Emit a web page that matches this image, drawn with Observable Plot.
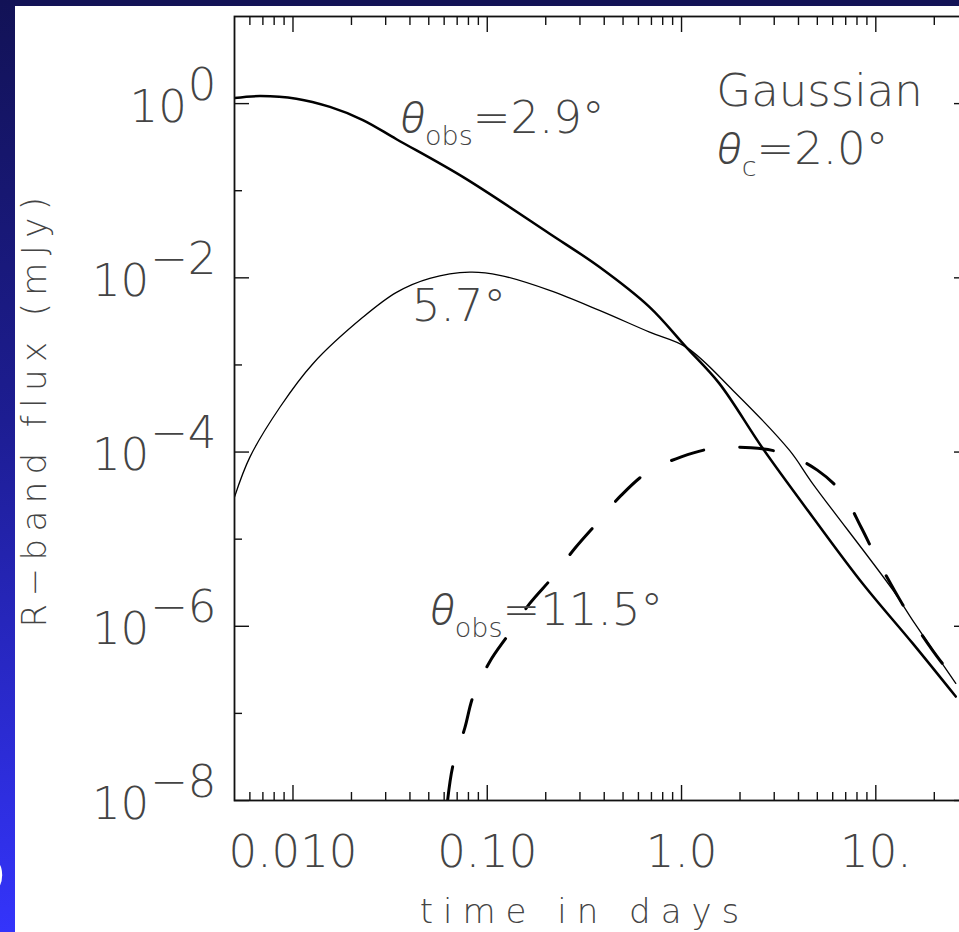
<!DOCTYPE html>
<html>
<head>
<meta charset="utf-8">
<script src="https://cdn.jsdelivr.net/npm/d3@7"></script>
<script src="https://cdn.jsdelivr.net/npm/@observablehq/plot@0.6"></script>
<style>
  html, body { margin: 0; padding: 0; overflow: hidden; background: #131356; }
  #stage { position: relative; width: 959px; height: 932px; overflow: hidden; background: #131356; }
  #strip { position: absolute; left: 0; top: 0; width: 15px; height: 932px;
           background: linear-gradient(to bottom, #121256 0%, #1d1d92 45%, #3434fb 100%); }
  #panel { position: absolute; left: 15px; top: 6px; width: 944px; height: 926px; background: #fff; }
  #corner { position: absolute; left: -42px; top: 846px; color: #fff;
            font: bold 60px "Liberation Sans", sans-serif; line-height: 1; }
  #chart { position: absolute; left: 0; top: 0; }
</style>
</head>
<body>
<div id="stage">
  <div id="strip"></div>
  <div id="panel"></div>
  <div id="corner">O</div>
  <div id="chart"></div>
</div>
<script>
// R-band afterglow light curves of a Gaussian jet seen from three viewing angles.
// Time in days, flux in mJy.

const coreT = [0.005, 0.00676, 0.0104, 0.0155, 0.0229, 0.0341, 0.0752, 0.2095, 0.378,
               0.685, 1.057, 1.567, 2.62, 4.73, 8.55, 15.45, 25.8];
const coreF = [1.16, 1.22, 1.14, 0.916, 0.648, 0.39, 0.143, 0.0321, 0.0133,
               0.00461, 0.0016, 6.1e-4, 1.1e-4, 1.8e-5, 3.1e-6, 6.4e-7, 1.56e-7];

const midT = [0.005, 0.00601, 0.00858, 0.0127, 0.02296, 0.0341, 0.0506, 0.0813, 0.116, 0.2095,
              0.378, 0.685, 1.057, 1.84, 3.59, 4.73, 12.25, 15.45, 25.8];
const midF = [3.05e-5, 8.8e-5, 3.29e-4, 1.04e-3, 3.54e-3, 6.8e-3, 9.85e-3, 1.16e-2, 1.07e-2, 7.18e-3,
              4.23e-3, 2.38e-3, 1.6e-3, 5.1e-4, 1.05e-4, 4.35e-5, 2.6e-6, 1.18e-6, 2.21e-7];

const wideT = [0.0625, 0.0667, 0.0766, 0.0845, 0.103, 0.128, 0.1656, 0.218, 0.282, 0.372,
               0.49, 0.671, 0.997, 1.45, 2.28, 3.39, 5.0, 6.74, 8.39, 10.0, 12.45, 15.2, 19.6, 26.4];
const wideF = [1.0e-8, 2.57e-8, 6.76e-8, 1.56e-7, 3.92e-7, 7.94e-7, 1.83e-6, 3.70e-6, 7.82e-6, 1.58e-5,
               3.2e-5, 5.9e-5, 8.8e-5, 1.10e-4, 1.12e-4, 9.6e-5, 6.2e-5, 3.34e-5, 1.38e-5, 6.3e-6,
               2.6e-6, 1.23e-6, 5.3e-7, 2.21e-7];

const xMajor = [0.01, 0.1, 1, 10];
const xMinor = [0.006, 0.007, 0.008, 0.009,
                0.02, 0.03, 0.04, 0.05, 0.06, 0.07, 0.08, 0.09,
                0.2, 0.3, 0.4, 0.5, 0.6, 0.7, 0.8, 0.9,
                2, 3, 4, 5, 6, 7, 8, 9, 20];
const xTickText = ["0.010", "0.10", "1.0", "10."];
const yMajorExp = [0, -2, -4, -6, -8];
const yMinorExp = [-1, -3, -5, -7];

const notes = ["θ_{obs}=2.9°", "5.7°", "Gaussian", "θ_{c}=2.0°", "θ_{obs}=11.5°"];
const noteT = [0.0347, 0.0409, 1.51, 1.48, 0.0494];
const noteF = [0.465, 3.16e-3, 0.95, 0.2, 1.03e-6];

const xTitle = "time in days";
const yTitle = "R−band flux (mJy)";

const rows = (T, F) => T.map((t, i) => ({t, f: F[i]}));
const FONT = "'DejaVu Sans', Roboto, sans-serif";
const GREEK_FONT = "Roboto, 'Open Sans', 'DejaVu Sans', sans-serif";
const TEXT = "#444";
const INK = "#111";
const textStyle = {fontFamily: FONT, fontWeight: 200, fill: TEXT};

// inward-pointing ticks on all four sides
function xTicks(values, size) {
  return [
    Plot.axisX({ticks: values, anchor: "bottom", tickSize: size, dy: -size, fill: "none", stroke: INK, strokeWidth: 1.4}),
    Plot.axisX({ticks: values, anchor: "top", tickSize: size, dy: size, fill: "none", stroke: INK, strokeWidth: 1.4})
  ];
}
function yTicks(values, size) {
  return [
    Plot.axisY({ticks: values, anchor: "left", tickSize: size, dx: size, fill: "none", stroke: INK, strokeWidth: 1.4}),
    Plot.axisY({ticks: values, anchor: "right", tickSize: size, dx: -size, fill: "none", stroke: INK, strokeWidth: 1.4})
  ];
}

const expText = e => `10^{${e < 0 ? "−" : ""}${Math.abs(e)}}`;
const smooth = "catmull-rom";

const chart = Plot.plot({
  width: 1000,
  height: 932,
  marginLeft: 234,
  marginRight: 32,
  marginTop: 16,
  marginBottom: 132,
  x: {type: "log", domain: [0.005, 30], axis: null},
  y: {type: "log", domain: [1e-8, 10], axis: null},
  style: {background: "transparent", maxWidth: "none", overflow: "visible"},
  marks: [
    Plot.line(rows(midT, midF), {x: "t", y: "f", stroke: "#000", strokeWidth: 1.3, curve: smooth, clip: true}),
    Plot.line(rows(coreT, coreF), {x: "t", y: "f", stroke: "#000", strokeWidth: 2.5, curve: smooth, clip: true}),
    Plot.line(rows(wideT, wideF), {x: "t", y: "f", stroke: "#000", strokeWidth: 3, strokeDasharray: "34,36",
                                   curve: smooth, clip: true}),
    Plot.frame({stroke: INK, strokeWidth: 1.8}),
    ...xTicks(xMajor, 15),
    ...xTicks(xMinor, 8),
    ...yTicks(yMajorExp.map(e => 10 ** e), 15),
    ...yTicks(yMinorExp.map(e => 10 ** e), 8),
    Plot.text(xMajor, {x: d => d, text: (d, i) => xTickText[i], frameAnchor: "bottom", dy: 66,
                       lineAnchor: "bottom", fontSize: 45, ...textStyle}),
    Plot.text(yMajorExp, {y: e => 10 ** e, text: expText, frameAnchor: "left", dx: -18, dy: 18,
                          textAnchor: "end", lineAnchor: "bottom", fontSize: 45, ...textStyle}),
    Plot.text(notes, {x: (d, i) => noteT[i], y: (d, i) => noteF[i], text: d => d, textAnchor: "start",
                      lineAnchor: "bottom", fontSize: 45, ...textStyle}),
    Plot.text([xTitle], {text: d => d, frameAnchor: "bottom", dx: -17, dy: 122, lineAnchor: "bottom",
                         textAnchor: "middle", fontSize: 34, ...textStyle}),
    Plot.text([yTitle], {text: d => d, frameAnchor: "left", rotate: -90, dx: -189, lineAnchor: "bottom",
                         textAnchor: "middle", fontSize: 34, ...textStyle})
  ]
});

// superscripts, subscripts and a light italic theta inside text labels
const SVGNS = "http://www.w3.org/2000/svg";
function enrich(node, {rise = 22, drop = 12, subSize = 27, gap = 1} = {}) {
  const src = node.textContent;
  if (!/[\^_]\{|θ/.test(src)) return;
  node.textContent = "";
  let level = 0;
  for (const part of src.split(/(\^\{[^}]*\}|_\{[^}]*\}|θ)/).filter(Boolean)) {
    const span = document.createElementNS(SVGNS, "tspan");
    let target = 0, body = part;
    if (part.startsWith("^{")) {
      target = -rise; body = part.slice(2, -1); span.setAttribute("dx", gap);
    } else if (part.startsWith("_{")) {
      target = drop; body = part.slice(2, -1); span.setAttribute("font-size", subSize);
    } else if (part === "θ") {
      span.setAttribute("font-style", "italic");
      span.setAttribute("font-family", GREEK_FONT);
      span.setAttribute("font-weight", 300);
      span.setAttribute("dx", 2);
    }
    if (target !== level) span.setAttribute("dy", target - level);
    level = target;
    span.textContent = body;
    node.appendChild(span);
  }
}
d3.select(chart).selectAll("text").each(function() { enrich(this); });
d3.select(chart).selectAll("text").filter(function() { return this.textContent === xTitle; })
  .style("letter-spacing", "10px");
d3.select(chart).selectAll("text").filter(function() { return this.textContent === yTitle; })
  .style("letter-spacing", "7.4px");

document.getElementById("chart").appendChild(chart);
</script>
</body>
</html>
